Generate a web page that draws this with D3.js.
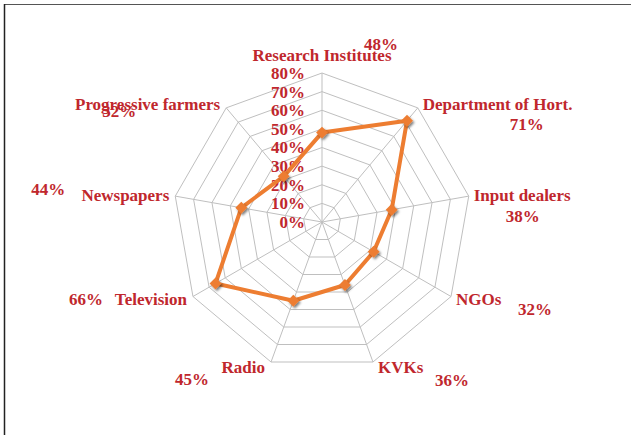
<!DOCTYPE html>
<html>
<head>
<meta charset="utf-8">
<script src="https://cdn.jsdelivr.net/npm/d3@7"></script>
<style>
  html, body { margin: 0; padding: 0; background: #fff; }
  svg { display: block; }
</style>
</head>
<body>
<svg id="chart" width="631" height="435"></svg>
<script>
// ---- data ----
const categories = ["Research Institutes", "Department of Hort.", "Input dealers", "NGOs", "KVKs",
                    "Radio", "Television", "Newspapers", "Progressive farmers"];
const values = [48, 71, 38, 32, 36, 45, 66, 44, 32];
const tickValues = [0, 10, 20, 30, 40, 50, 60, 70, 80];
const tickLabels = ["0%", "10%", "20%", "30%", "40%", "50%", "60%", "70%", "80%"];

// ---- layout ----
const W = 631, H = 435;
const cx = 322, cy = 222, R = 149;
const textColor = "#c0272d";
const lineColor = "#ed7d31";
const fontFamily = "'Liberation Serif', serif";
const fontSize = 17;
// value-label offsets from each axis' outer vertex (layout only)
const valueLabelOffsets = [[59, -29], [109, 16], [54, 20], [84, 13], [79, 18],
                           [-79, 17], [-107, 3], [-127, -7], [-107, 3]];

const svg = d3.select("#chart");

// frame (top + left edges)
svg.append("line").attr("x1", 4).attr("y1", 4.5).attr("x2", W).attr("y2", 4.5)
  .attr("stroke", "#555").attr("stroke-width", 1.2);
svg.append("line").attr("x1", 4.5).attr("y1", 4).attr("x2", 4.5).attr("y2", H)
  .attr("stroke", "#222").attr("stroke-width", 1.5);

const defs = svg.append("defs");
const f = defs.append("filter").attr("id", "shadow").attr("x", "-50%").attr("y", "-50%")
  .attr("width", "200%").attr("height", "200%");
f.append("feDropShadow").attr("dx", 1.5).attr("dy", 1.8).attr("stdDeviation", 1.2)
  .attr("flood-color", "#000").attr("flood-opacity", 0.5);

const r = d3.scaleLinear().domain([0, 80]).range([0, R]);
const angle = d3.scalePoint().domain(categories).range([0, 2 * Math.PI * (categories.length - 1) / categories.length]);

const g = svg.append("g").attr("transform", `translate(${cx},${cy})`);

function pt(cat, v) {
  const a = angle(cat);
  return [r(v) * Math.sin(a), -r(v) * Math.cos(a)];
}

// grid rings
g.selectAll("polygon.ring").data(tickValues.filter(d => d > 0)).join("polygon")
  .attr("class", "ring")
  .attr("points", d => categories.map(c => pt(c, d).join(",")).join(" "))
  .attr("fill", "none").attr("stroke", "#bfbfbf").attr("stroke-width", 1);

// spokes
g.selectAll("line.spoke").data(categories).join("line")
  .attr("class", "spoke")
  .attr("x1", 0).attr("y1", 0)
  .attr("x2", d => pt(d, 80)[0]).attr("y2", d => pt(d, 80)[1])
  .attr("stroke", "#bfbfbf").attr("stroke-width", 1);

// tick labels
g.selectAll("text.tick").data(tickValues).join("text")
  .attr("class", "tick")
  .attr("x", -17).attr("y", d => -r(d))
  .attr("dy", "0.35em")
  .attr("text-anchor", "end")
  .attr("font-family", fontFamily).attr("font-weight", "bold").attr("font-size", fontSize)
  .attr("fill", textColor)
  .text((d, i) => tickLabels[i]);

// series line
const line = d3.lineRadial().angle((d, i) => angle(categories[i])).radius(d => r(d)).curve(d3.curveLinearClosed);
g.append("path").datum(values)
  .attr("d", line)
  .attr("fill", "none").attr("stroke", lineColor).attr("stroke-width", 4)
  .attr("stroke-linejoin", "round");

// markers
g.selectAll("path.marker").data(values).join("path")
  .attr("class", "marker")
  .attr("d", d3.symbol().type(d3.symbolDiamond2).size(90))
  .attr("transform", (d, i) => { const p = pt(categories[i], d); return `translate(${p[0]},${p[1]})`; })
  .attr("fill", lineColor).attr("filter", "url(#shadow)");

// category labels
g.selectAll("text.cat").data(categories).join("text")
  .attr("class", "cat")
  .each(function (d) {
    const a = angle(d);
    const [x, y] = pt(d, 80);
    const s = Math.sin(a), c = Math.cos(a);
    const t = d3.select(this);
    if (Math.abs(s) < 0.01) {
      t.attr("x", x).attr("y", y - 12).attr("text-anchor", "middle");
    } else {
      t.attr("x", x + (s > 0 ? 5 : -6)).attr("y", y - c * 5)
        .attr("dy", "0.35em")
        .attr("text-anchor", s > 0 ? "start" : "end");
    }
  })
  .attr("font-family", fontFamily).attr("font-weight", "bold").attr("font-size", fontSize)
  .attr("fill", textColor)
  .text(d => d);

// value labels
g.selectAll("text.val").data(values).join("text")
  .attr("class", "val")
  .attr("x", (d, i) => pt(categories[i], 80)[0] + valueLabelOffsets[i][0])
  .attr("y", (d, i) => pt(categories[i], 80)[1] + valueLabelOffsets[i][1])
  .attr("dy", "0.35em")
  .attr("text-anchor", "middle")
  .attr("font-family", fontFamily).attr("font-weight", "bold").attr("font-size", fontSize)
  .attr("fill", textColor)
  .text(d => d + "%");
</script>
</body>
</html>
